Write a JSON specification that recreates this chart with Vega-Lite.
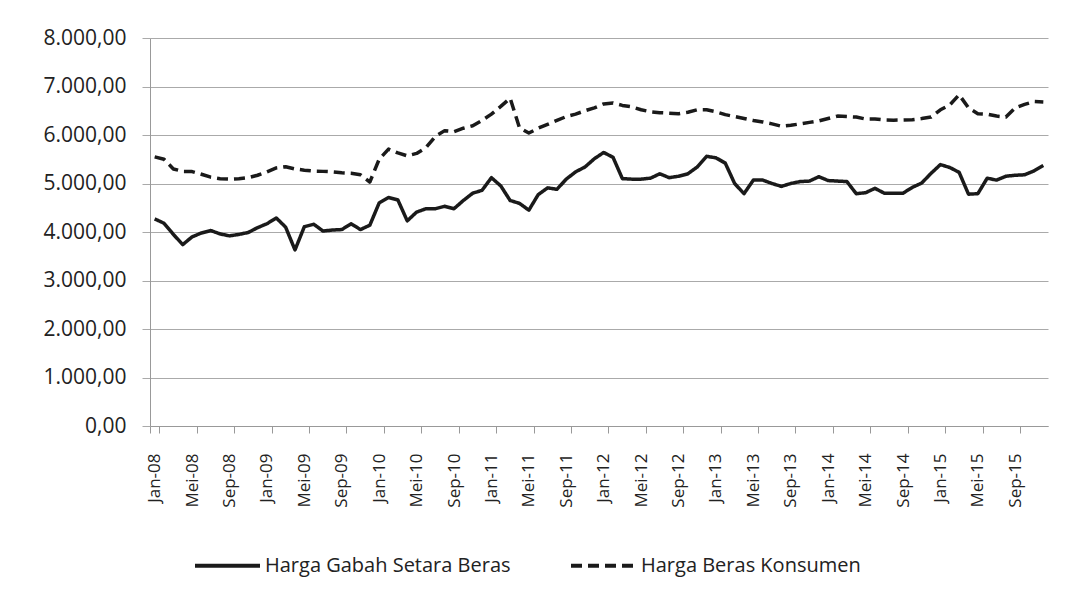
{
  "$schema": "https://vega.github.io/schema/vega-lite/v6.json",
  "autosize": "none",
  "padding": {"left": 150, "top": 38, "right": 18, "bottom": 165},
  "width": 898,
  "height": 388,
  "background": "white",
  "config": {
    "locale": {"number": {"decimal": ",", "thousands": ".", "grouping": [3], "currency": ["Rp", ""]}},
    "view": {"stroke": null},
    "font": "Open Sans"
  },
  "data": {
    "values": [
      {"bulan": "Jan-08", "Harga Gabah Setara Beras": 4270, "Harga Beras Konsumen": 5550},
      {"bulan": "Feb-08", "Harga Gabah Setara Beras": 4180, "Harga Beras Konsumen": 5500},
      {"bulan": "Mar-08", "Harga Gabah Setara Beras": 3950, "Harga Beras Konsumen": 5300},
      {"bulan": "Apr-08", "Harga Gabah Setara Beras": 3740, "Harga Beras Konsumen": 5250},
      {"bulan": "Mei-08", "Harga Gabah Setara Beras": 3900, "Harga Beras Konsumen": 5245},
      {"bulan": "Jun-08", "Harga Gabah Setara Beras": 3980, "Harga Beras Konsumen": 5190},
      {"bulan": "Jul-08", "Harga Gabah Setara Beras": 4030, "Harga Beras Konsumen": 5130},
      {"bulan": "Agu-08", "Harga Gabah Setara Beras": 3960, "Harga Beras Konsumen": 5100},
      {"bulan": "Sep-08", "Harga Gabah Setara Beras": 3920, "Harga Beras Konsumen": 5090},
      {"bulan": "Okt-08", "Harga Gabah Setara Beras": 3950, "Harga Beras Konsumen": 5100},
      {"bulan": "Nov-08", "Harga Gabah Setara Beras": 3990, "Harga Beras Konsumen": 5120},
      {"bulan": "Des-08", "Harga Gabah Setara Beras": 4090, "Harga Beras Konsumen": 5170},
      {"bulan": "Jan-09", "Harga Gabah Setara Beras": 4170, "Harga Beras Konsumen": 5240},
      {"bulan": "Feb-09", "Harga Gabah Setara Beras": 4290, "Harga Beras Konsumen": 5320},
      {"bulan": "Mar-09", "Harga Gabah Setara Beras": 4100, "Harga Beras Konsumen": 5345},
      {"bulan": "Apr-09", "Harga Gabah Setara Beras": 3630, "Harga Beras Konsumen": 5300},
      {"bulan": "Mei-09", "Harga Gabah Setara Beras": 4110, "Harga Beras Konsumen": 5275},
      {"bulan": "Jun-09", "Harga Gabah Setara Beras": 4160, "Harga Beras Konsumen": 5255},
      {"bulan": "Jul-09", "Harga Gabah Setara Beras": 4020, "Harga Beras Konsumen": 5250},
      {"bulan": "Agu-09", "Harga Gabah Setara Beras": 4040, "Harga Beras Konsumen": 5240},
      {"bulan": "Sep-09", "Harga Gabah Setara Beras": 4050, "Harga Beras Konsumen": 5220},
      {"bulan": "Okt-09", "Harga Gabah Setara Beras": 4170, "Harga Beras Konsumen": 5210},
      {"bulan": "Nov-09", "Harga Gabah Setara Beras": 4050, "Harga Beras Konsumen": 5180},
      {"bulan": "Des-09", "Harga Gabah Setara Beras": 4140, "Harga Beras Konsumen": 5030},
      {"bulan": "Jan-10", "Harga Gabah Setara Beras": 4600, "Harga Beras Konsumen": 5500},
      {"bulan": "Feb-10", "Harga Gabah Setara Beras": 4710, "Harga Beras Konsumen": 5710},
      {"bulan": "Mar-10", "Harga Gabah Setara Beras": 4660, "Harga Beras Konsumen": 5630},
      {"bulan": "Apr-10", "Harga Gabah Setara Beras": 4230, "Harga Beras Konsumen": 5570},
      {"bulan": "Mei-10", "Harga Gabah Setara Beras": 4410, "Harga Beras Konsumen": 5620},
      {"bulan": "Jun-10", "Harga Gabah Setara Beras": 4480, "Harga Beras Konsumen": 5740},
      {"bulan": "Jul-10", "Harga Gabah Setara Beras": 4480, "Harga Beras Konsumen": 5970},
      {"bulan": "Agu-10", "Harga Gabah Setara Beras": 4530, "Harga Beras Konsumen": 6090},
      {"bulan": "Sep-10", "Harga Gabah Setara Beras": 4480, "Harga Beras Konsumen": 6070},
      {"bulan": "Okt-10", "Harga Gabah Setara Beras": 4650, "Harga Beras Konsumen": 6140},
      {"bulan": "Nov-10", "Harga Gabah Setara Beras": 4800, "Harga Beras Konsumen": 6190},
      {"bulan": "Des-10", "Harga Gabah Setara Beras": 4860, "Harga Beras Konsumen": 6300},
      {"bulan": "Jan-11", "Harga Gabah Setara Beras": 5120, "Harga Beras Konsumen": 6430},
      {"bulan": "Feb-11", "Harga Gabah Setara Beras": 4950, "Harga Beras Konsumen": 6590},
      {"bulan": "Mar-11", "Harga Gabah Setara Beras": 4650, "Harga Beras Konsumen": 6760},
      {"bulan": "Apr-11", "Harga Gabah Setara Beras": 4590, "Harga Beras Konsumen": 6150},
      {"bulan": "Mei-11", "Harga Gabah Setara Beras": 4450, "Harga Beras Konsumen": 6040},
      {"bulan": "Jun-11", "Harga Gabah Setara Beras": 4770, "Harga Beras Konsumen": 6140},
      {"bulan": "Jul-11", "Harga Gabah Setara Beras": 4910, "Harga Beras Konsumen": 6220},
      {"bulan": "Agu-11", "Harga Gabah Setara Beras": 4880, "Harga Beras Konsumen": 6300},
      {"bulan": "Sep-11", "Harga Gabah Setara Beras": 5090, "Harga Beras Konsumen": 6380},
      {"bulan": "Okt-11", "Harga Gabah Setara Beras": 5240, "Harga Beras Konsumen": 6430},
      {"bulan": "Nov-11", "Harga Gabah Setara Beras": 5340, "Harga Beras Konsumen": 6500},
      {"bulan": "Des-11", "Harga Gabah Setara Beras": 5510, "Harga Beras Konsumen": 6560},
      {"bulan": "Jan-12", "Harga Gabah Setara Beras": 5640, "Harga Beras Konsumen": 6640},
      {"bulan": "Feb-12", "Harga Gabah Setara Beras": 5540, "Harga Beras Konsumen": 6660},
      {"bulan": "Mar-12", "Harga Gabah Setara Beras": 5100, "Harga Beras Konsumen": 6610},
      {"bulan": "Apr-12", "Harga Gabah Setara Beras": 5090, "Harga Beras Konsumen": 6580},
      {"bulan": "Mei-12", "Harga Gabah Setara Beras": 5090, "Harga Beras Konsumen": 6520},
      {"bulan": "Jun-12", "Harga Gabah Setara Beras": 5110, "Harga Beras Konsumen": 6480},
      {"bulan": "Jul-12", "Harga Gabah Setara Beras": 5200, "Harga Beras Konsumen": 6460},
      {"bulan": "Agu-12", "Harga Gabah Setara Beras": 5120, "Harga Beras Konsumen": 6450},
      {"bulan": "Sep-12", "Harga Gabah Setara Beras": 5150, "Harga Beras Konsumen": 6440},
      {"bulan": "Okt-12", "Harga Gabah Setara Beras": 5200, "Harga Beras Konsumen": 6470},
      {"bulan": "Nov-12", "Harga Gabah Setara Beras": 5340, "Harga Beras Konsumen": 6520},
      {"bulan": "Des-12", "Harga Gabah Setara Beras": 5560, "Harga Beras Konsumen": 6520},
      {"bulan": "Jan-13", "Harga Gabah Setara Beras": 5530, "Harga Beras Konsumen": 6480},
      {"bulan": "Feb-13", "Harga Gabah Setara Beras": 5420, "Harga Beras Konsumen": 6420},
      {"bulan": "Mar-13", "Harga Gabah Setara Beras": 5000, "Harga Beras Konsumen": 6380},
      {"bulan": "Apr-13", "Harga Gabah Setara Beras": 4790, "Harga Beras Konsumen": 6340},
      {"bulan": "Mei-13", "Harga Gabah Setara Beras": 5070, "Harga Beras Konsumen": 6300},
      {"bulan": "Jun-13", "Harga Gabah Setara Beras": 5070, "Harga Beras Konsumen": 6270},
      {"bulan": "Jul-13", "Harga Gabah Setara Beras": 5000, "Harga Beras Konsumen": 6230},
      {"bulan": "Agu-13", "Harga Gabah Setara Beras": 4940, "Harga Beras Konsumen": 6180},
      {"bulan": "Sep-13", "Harga Gabah Setara Beras": 5000, "Harga Beras Konsumen": 6200},
      {"bulan": "Okt-13", "Harga Gabah Setara Beras": 5040, "Harga Beras Konsumen": 6230},
      {"bulan": "Nov-13", "Harga Gabah Setara Beras": 5050, "Harga Beras Konsumen": 6260},
      {"bulan": "Des-13", "Harga Gabah Setara Beras": 5140, "Harga Beras Konsumen": 6290},
      {"bulan": "Jan-14", "Harga Gabah Setara Beras": 5060, "Harga Beras Konsumen": 6340},
      {"bulan": "Feb-14", "Harga Gabah Setara Beras": 5050, "Harga Beras Konsumen": 6390},
      {"bulan": "Mar-14", "Harga Gabah Setara Beras": 5040, "Harga Beras Konsumen": 6380},
      {"bulan": "Apr-14", "Harga Gabah Setara Beras": 4790, "Harga Beras Konsumen": 6370},
      {"bulan": "Mei-14", "Harga Gabah Setara Beras": 4810, "Harga Beras Konsumen": 6330},
      {"bulan": "Jun-14", "Harga Gabah Setara Beras": 4900, "Harga Beras Konsumen": 6330},
      {"bulan": "Jul-14", "Harga Gabah Setara Beras": 4800, "Harga Beras Konsumen": 6310},
      {"bulan": "Agu-14", "Harga Gabah Setara Beras": 4800, "Harga Beras Konsumen": 6305},
      {"bulan": "Sep-14", "Harga Gabah Setara Beras": 4800, "Harga Beras Konsumen": 6310},
      {"bulan": "Okt-14", "Harga Gabah Setara Beras": 4920, "Harga Beras Konsumen": 6315},
      {"bulan": "Nov-14", "Harga Gabah Setara Beras": 5010, "Harga Beras Konsumen": 6340},
      {"bulan": "Des-14", "Harga Gabah Setara Beras": 5210, "Harga Beras Konsumen": 6370},
      {"bulan": "Jan-15", "Harga Gabah Setara Beras": 5390, "Harga Beras Konsumen": 6520},
      {"bulan": "Feb-15", "Harga Gabah Setara Beras": 5330, "Harga Beras Konsumen": 6620},
      {"bulan": "Mar-15", "Harga Gabah Setara Beras": 5230, "Harga Beras Konsumen": 6830},
      {"bulan": "Apr-15", "Harga Gabah Setara Beras": 4780, "Harga Beras Konsumen": 6560},
      {"bulan": "Mei-15", "Harga Gabah Setara Beras": 4790, "Harga Beras Konsumen": 6440},
      {"bulan": "Jun-15", "Harga Gabah Setara Beras": 5110, "Harga Beras Konsumen": 6430},
      {"bulan": "Jul-15", "Harga Gabah Setara Beras": 5070, "Harga Beras Konsumen": 6390},
      {"bulan": "Agu-15", "Harga Gabah Setara Beras": 5150, "Harga Beras Konsumen": 6370},
      {"bulan": "Sep-15", "Harga Gabah Setara Beras": 5170, "Harga Beras Konsumen": 6560},
      {"bulan": "Okt-15", "Harga Gabah Setara Beras": 5180, "Harga Beras Konsumen": 6630},
      {"bulan": "Nov-15", "Harga Gabah Setara Beras": 5260, "Harga Beras Konsumen": 6690},
      {"bulan": "Des-15", "Harga Gabah Setara Beras": 5370, "Harga Beras Konsumen": 6680}
    ]
  },
  "transform": [
    {"fold": ["Harga Gabah Setara Beras", "Harga Beras Konsumen"], "as": ["seri", "harga"]}
  ],
  "mark": {"type": "line", "stroke": "#1a1a1a", "strokeWidth": 3.5, "strokeJoin": "round", "interpolate": "linear"},
  "encoding": {
    "x": {
      "field": "bulan",
      "type": "ordinal",
      "sort": null,
      "scale": {"type": "band", "paddingInner": 0, "paddingOuter": 0},
      "axis": {
        "title": null,
        "values": ["Jan-08","Mei-08","Sep-08","Jan-09","Mei-09","Sep-09","Jan-10","Mei-10","Sep-10","Jan-11","Mei-11","Sep-11","Jan-12","Mei-12","Sep-12","Jan-13","Mei-13","Sep-13","Jan-14","Mei-14","Sep-14","Jan-15","Mei-15","Sep-15"],
        "labelAngle": -90,
        "labelAlign": "right",
        "labelBaseline": "middle",
        "labelFont": "Open Sans",
        "labelFontSize": 17,
        "labelColor": "#222",
        "labelPadding": 20,
        "tickSize": 7,
        "tickBand": "extent",
        "tickColor": "#999",
        "domainColor": "#999",
        "grid": false,
        "labelOverlap": false
      }
    },
    "y": {
      "field": "harga",
      "type": "quantitative",
      "scale": {"domain": [0, 8000], "nice": false},
      "axis": {
        "title": null,
        "values": [0, 1000, 2000, 3000, 4000, 5000, 6000, 7000, 8000],
        "format": ",.2f",
        "labelFont": "Open Sans",
        "labelFontSize": 21,
        "labelColor": "#222",
        "labelPadding": 16,
        "tickSize": 8,
        "tickColor": "#aaa",
        "domainColor": "#999",
        "gridColor": "#aaa",
        "gridWidth": 1
      }
    },
    "strokeDash": {
      "field": "seri",
      "type": "nominal",
      "scale": {
        "domain": ["Harga Gabah Setara Beras", "Harga Beras Konsumen"],
        "range": [[1, 0], [11, 6]]
      },
      "legend": {
        "title": null,
        "orient": "none",
        "direction": "horizontal",
        "legendX": 43,
        "legendY": 493,
        "symbolType": "stroke",
        "symbolSize": 4225,
        "symbolStrokeWidth": 4,
        "symbolStrokeColor": "#1a1a1a",
        "labelFont": "Open Sans",
        "labelFontSize": 20,
        "labelColor": "#222",
        "labelOffset": 3,
        "columnPadding": 52,
        "labelLimit": 400
      }
    }
  }
}
